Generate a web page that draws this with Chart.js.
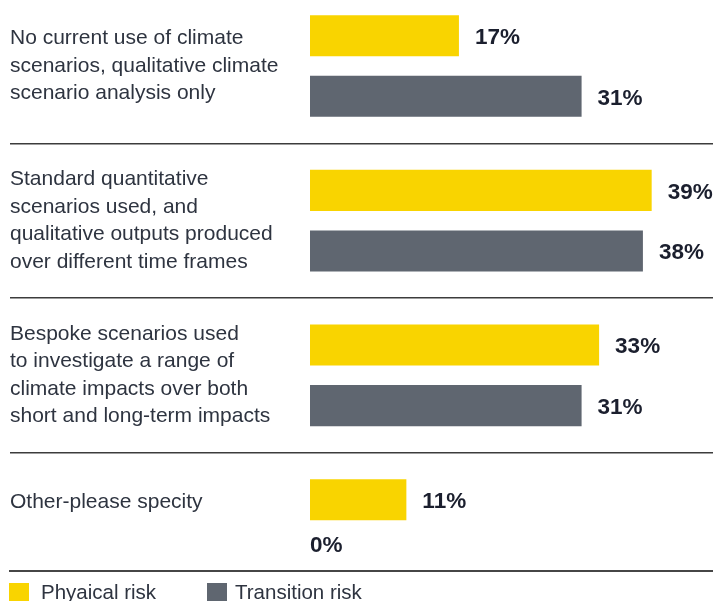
<!DOCTYPE html>
<html>
<head>
<meta charset="utf-8">
<script src="https://cdn.jsdelivr.net/npm/chart.js@4/dist/chart.umd.min.js"></script>
<style>
  html, body { margin: 0; padding: 0; background: #ffffff; overflow: hidden; }
  #wrap { position: relative; width: 713px; height: 601px; }
  #legend { position: absolute; left: 9px; right: 0; top: 570px; height: 40px; border-top: 2px solid #464646;
            font-family: "Liberation Sans", Arial, sans-serif; font-size: 20.5px; color: #2e3440; }
  .item { position: absolute; top: 11px; display: flex; align-items: flex-start; white-space: nowrap; }
  .sw { width: 20px; height: 20px; flex: none; }
  .txt { line-height: 20.5px; margin-top: -1px; }
</style>
</head>
<body>
<div id="wrap">
  <canvas id="c" width="713" height="601"></canvas>
  <div id="legend"></div>
</div>
<script>
// ---- data ----
const categories = [
  ["No current use of climate", "scenarios, qualitative climate", "scenario analysis only"],
  ["Standard quantitative", "scenarios used, and", "qualitative outputs produced", "over different time frames"],
  ["Bespoke scenarios used", "to investigate a range of", "climate impacts over both", "short and long-term impacts"],
  ["Other-please specity"]
];
const seriesNames = ["Phyaical risk", "Transition risk"];
const physicalRisk = [17, 39, 33, 11];
const transitionRisk = [31, 38, 31, 0];
const seriesColors = ["#F9D400", "#5F6670"];

const FONT = '"Liberation Sans", Arial, sans-serif';

const valueLabels = {
  id: 'valueLabels',
  afterDatasetsDraw(chart) {
    const ctx = chart.ctx;
    ctx.save();
    ctx.font = 'bold 22.5px ' + FONT;
    ctx.fillStyle = '#1b1f2e';
    ctx.textAlign = 'left';
    ctx.textBaseline = 'middle';
    chart.data.datasets.forEach((ds, di) => {
      const meta = chart.getDatasetMeta(di);
      meta.data.forEach((el, i) => {
        const v = ds.data[i];
        const txt = v + '%';
        if (v > 0) {
          ctx.fillText(txt, el.x + 16, el.y + 2);
        } else {
          ctx.fillText(txt, el.base, el.y - 15);
        }
      });
    });
    ctx.restore();
  }
};

new Chart(document.getElementById('c'), {
  type: 'bar',
  data: {
    labels: categories,
    datasets: [
      { label: seriesNames[0], data: physicalRisk, backgroundColor: seriesColors[0], clip: false },
      { label: seriesNames[1], data: transitionRisk, backgroundColor: seriesColors[1], clip: false }
    ]
  },
  options: {
    indexAxis: 'y',
    responsive: false,
    animation: false,
    devicePixelRatio: 1,
    categoryPercentage: 0.784,
    barPercentage: 0.677,
    layout: { padding: { top: 66, bottom: 71, left: 10, right: 0 } },
    plugins: {
      legend: { display: false },
      tooltip: { enabled: false }
    },
    scales: {
      x: {
        display: false,
        min: 0,
        max: 46
      },
      y: {
        offset: false,
        border: { display: false },
        grid: {
          offset: true,
          color: '#3c3c3c',
          lineWidth: 1.6,
          drawTicks: true,
          tickLength: 300,
          tickColor: '#3c3c3c'
        },
        ticks: {
          crossAlign: 'far',
          padding: 0,
          color: '#2e3440',
          font: { family: FONT, size: 21, lineHeight: 1.31 },
          callback: function (value, index) {
            const lab = categories[index];
            return lab.length === 1 ? [lab[0], '', ''] : lab;
          }
        },
        afterFit(scale) { scale.width = 300; }
      }
    }
  },
  plugins: [valueLabels]
});

// legend (HTML) built from the series arrays
const lg = document.getElementById('legend');
const lefts = [0, 198];
const gaps = [12, 8];
seriesNames.forEach((name, i) => {
  const it = document.createElement('div');
  it.className = 'item';
  it.style.left = lefts[i] + 'px';
  const sw = document.createElement('div');
  sw.className = 'sw';
  sw.style.background = seriesColors[i];
  const tx = document.createElement('span');
  tx.className = 'txt';
  tx.style.marginLeft = gaps[i] + 'px';
  tx.textContent = name;
  it.appendChild(sw);
  it.appendChild(tx);
  lg.appendChild(it);
});
</script>
</body>
</html>
